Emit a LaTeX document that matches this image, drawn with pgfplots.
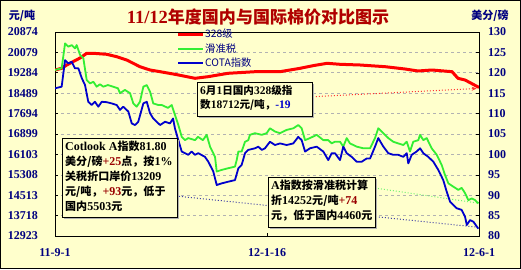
\documentclass[border=0pt]{standalone}
\usepackage{pgfplots}
\pgfplotsset{compat=1.18}
\usetikzlibrary{arrows.meta}
\usepackage{fontspec}
\setmainfont{Liberation Serif}
\newfontfamily\cjk{Noto Sans CJK SC}[Scale=0.92]
\definecolor{bgy}{HTML}{FFFFCC}
\definecolor{navyt}{HTML}{000080}
\definecolor{titler}{HTML}{B00000}
\definecolor{redl}{HTML}{FF0000}
\definecolor{greenl}{HTML}{33EE33}
\definecolor{bluel}{HTML}{0000CC}
\definecolor{dred}{HTML}{990000}
\newcommand{\zh}[1]{{\cjk #1}}
\begin{document}
\begin{tikzpicture}[x=1pt,y=1pt]
\fill[bgy] (0,0) rectangle (521,269);
\draw[black, line width=1pt] (0.5,0.5) rectangle (520.5,268.5);
\useasboundingbox (0,0) rectangle (521,269);
\begin{axis}[
  at={(55pt,33pt)}, anchor=south west, scale only axis, width=424pt, height=204pt,
  xmin=0, xmax=274, ymin=12923, ymax=20874,
  scaled y ticks=false, scaled x ticks=false,
  axis background/.style={fill=bgy},
  xtick={0,137,274}, xticklabels={11-9-1,12-1-16,12-6-1},
  ytick={12923,13718.1,14513.2,15308.3,16103.4,16898.5,17693.6,18488.7,19283.8,20078.9,20874},
  yticklabels={12923,13718,14513,15308,16103,16899,17694,18489,19284,20079,20874},
  ymajorgrids, major grid style={gray!60, dash pattern=on 3pt off 3pt, line width=0.6pt},
  tick align=inside, major tick length=3pt, ytick pos=left, xtick pos=bottom,
  tick style={black, line width=0.6pt},
  ticklabel style={font=\fontsize{12}{12}\selectfont\bfseries, text=navyt},
  yticklabel style={anchor=east, inner sep=0pt, xshift=-17pt},
  xticklabel style={anchor=north, inner sep=0pt, yshift=-12pt},
  axis line style={black, line width=0.8pt},
]
\addplot[redl, line width=3pt, line join=round] coordinates {
(0,19393)(4.3,19459)(7.6,19588)(11.6,19716)(16.2,19861)(20.5,20044)(24.6,20044)(33.4,20005)(39.9,19911)(46.3,19783)(54.9,19522)(61.4,19393)(67.9,19327)(77.5,19225)(90.5,19069)(98.9,19132)(111.8,19264)(129.3,19327)(145.4,19327)(158.4,19459)(166.7,19561)(175.8,19654)(184.2,19615)(197.1,19588)(213.3,19522)(226.2,19432)(234.6,19354)(243.6,19393)(256.6,19327)(260.4,19069)(265,19003)(274,18712)
};
\addplot[redl!80, dotted, line width=1pt, -{Stealth[length=5pt,width=4pt]}] coordinates {(166.7,18352) (272.5,18672)};
\end{axis}
\begin{axis}[
  at={(55pt,33pt)}, anchor=south west, scale only axis, width=424pt, height=204pt,
  xmin=0, xmax=274, ymin=80, ymax=130,
  axis x line=none, axis y line*=right,
  ytick={80,85,...,130},
  tick align=inside, major tick length=3pt,
  tick style={black, line width=0.6pt},
  /pgf/number format/assume math mode=true,
  ticklabel style={font=\fontsize{12}{12}\selectfont\bfseries, text=navyt},
  yticklabel style={anchor=west, inner sep=0pt, xshift=9pt},
  axis line style={black, line width=0.8pt},
]
\addplot[greenl!70, dotted, line width=1pt] coordinates {(206.8,91.76) (272.7,88.1)};
\addplot[bluel!50!gray, dotted, line width=1pt] coordinates {(78.2,89.8) (272,82.2)};
\addplot[greenl, line width=1.8pt, line join=round] coordinates {
(0,120.7)(4.3,121.1)(6.5,127.2)(8.6,126.4)(10.8,126.8)(12.9,126.0)(14.0,126.8)(16.2,124.4)(18.3,123.6)(20.5,118.2)(22.6,117.4)(24.8,117.8)(26.9,116.6)(29.1,117.2)(31.2,116.6)(34.2,117.0)(37.5,116.6)(40.7,116.2)(42.0,115.0)(45.2,115.8)(48.5,115.0)(50.6,112.5)(52.8,111.7)(54.9,112.9)(57.1,116.6)(59.3,117.0)(61.4,115.4)(63.5,112.5)(66.8,112.1)(69.0,112.1)(73.0,111.4)(75.4,112.1)(77.5,109.7)(79.7,107.2)(81.9,104.3)(84.0,103.5)(86.1,104.0)(90.5,103.5)(92.4,104.3)(95.6,103.5)(98.0,104.8)(100.2,101.9)(103.4,99.4)(104.5,95.8)(107.7,96.2)(111.8,96.6)(116.3,97.0)(117.4,98.6)(118.5,100.7)(120.6,100.7)(122.8,103.1)(124.9,103.5)(126.0,104.8)(129.2,105.2)(133.6,104.8)(136.8,105.2)(138.9,106.4)(142.2,105.6)(145.4,105.2)(149.7,106.0)(154.0,106.4)(157.2,107.2)(159.4,106.4)(161.6,103.5)(164.8,104.0)(169.1,104.8)(173.4,103.5)(176.6,103.5)(178.8,102.7)(180.9,103.1)(184.2,103.1)(186.3,101.9)(188.5,104.0)(190.6,102.7)(195.0,101.9)(199.2,101.5)(203.6,101.5)(206.8,104.0)(208.9,106.4)(212.2,105.2)(215.4,104.0)(218.6,103.1)(221.8,102.7)(225.1,102.3)(227.3,103.1)(229.4,100.7)(231.5,103.1)(234.8,103.5)(235.9,104.8)(238.0,103.5)(240.2,104.0)(243.4,101.5)(246.7,99.9)(249.9,97.4)(252.0,95.0)(254.2,92.9)(257.4,92.1)(260.6,91.3)(262.8,91.8)(265.0,90.5)(267.1,88.8)(269.3,89.2)(271.4,88.8)(273.6,88.0)
};
\addplot[bluel, line width=1.8pt, line join=round] coordinates {
(0,116.2)(4.3,116.6)(6.5,123.1)(8.6,122.3)(10.8,122.7)(12.9,121.1)(15.1,121.1)(17.3,118.7)(19.4,117.0)(21.5,112.9)(23.7,112.1)(25.8,112.9)(28.0,111.7)(30.2,112.9)(33.4,112.8)(36.6,112.5)(39.9,112.1)(42.0,110.9)(44.1,111.7)(47.4,110.5)(49.6,107.6)(51.7,107.2)(53.8,108.0)(57.1,112.5)(59.3,112.9)(61.4,110.1)(63.5,108.8)(65.7,108.0)(67.9,107.2)(71.1,108.0)(74.3,107.6)(76.3,108.8)(77.5,106.4)(79.7,103.5)(81.9,100.7)(84.0,100.3)(86.1,99.9)(88.3,100.7)(90.5,99.9)(92.6,100.3)(96.9,99.4)(99.1,98.2)(102.3,95.8)(104.5,92.5)(107.7,92.9)(111.8,93.3)(116.3,93.7)(118.5,96.6)(120.6,97.4)(122.8,100.3)(124.9,101.1)(129.2,101.5)(131.4,101.9)(133.6,101.1)(135.7,101.5)(138.9,103.1)(142.2,102.3)(145.4,102.7)(149.7,102.3)(154.0,102.7)(157.2,104.3)(159.4,103.5)(161.6,100.7)(164.8,101.5)(169.1,101.9)(173.4,100.7)(176.6,98.6)(178.8,100.3)(180.9,100.3)(184.2,98.6)(186.3,101.9)(188.5,100.3)(191.7,99.4)(195.0,98.2)(198.2,98.2)(201.4,99.0)(203.6,99.0)(206.8,101.9)(208.9,104.0)(212.2,101.9)(215.4,100.3)(218.6,99.9)(221.8,99.9)(225.1,99.4)(227.3,100.3)(228.3,97.8)(230.5,99.9)(233.7,100.7)(235.9,101.5)(238.0,100.3)(241.2,99.4)(244.5,98.2)(247.7,96.2)(250.9,93.7)(253.1,90.9)(255.3,88.4)(257.4,87.6)(259.6,86.8)(262.8,86.4)(265.0,84.7)(266.1,82.7)(268.2,83.9)(270.4,83.5)(272.6,82.3)(273.6,81.8)
};
\end{axis}
% title and unit labels
\node[text=titler, font=\fontsize{18.5}{18.5}\selectfont\bfseries] at (258,252) {11/12\zh{年度国内与国际棉价对比图示}};
\node[text=navyt, font=\fontsize{12}{12}\selectfont\bfseries] at (22,253) {\zh{元/吨}};
\node[text=navyt, font=\fontsize{12}{12}\selectfont\bfseries] at (490,253) {\zh{美分/磅}};
% legend
\draw[redl, line width=3pt] (178,235) -- (203,235);
\draw[greenl, line width=1.8pt] (178,220) -- (203,220);
\draw[bluel, line width=1.8pt] (178,206) -- (203,206);
\node[anchor=west, inner sep=0pt, text=navyt, font=\cjk\fontsize{11.2}{11.2}\selectfont] at (205,235) {328级};
\node[anchor=west, inner sep=0pt, text=navyt, font=\cjk\fontsize{11.2}{11.2}\selectfont] at (205,220) {滑准税};
\node[anchor=west, inner sep=0pt, text=navyt, font=\cjk\fontsize{11.2}{11.2}\selectfont] at (205,206) {COTA指数};
% box 1
\fill[gray!60] (199,151) rectangle (314,185);
\filldraw[fill=bgy, draw=black, line width=0.8pt] (197,153) rectangle (312,187);
\node[anchor=north west, align=left, inner sep=0pt, font=\fontsize{11.5}{14.5}\selectfont\bfseries] at (200,184)
 {6\zh{月}1\zh{日国内}328\zh{级指}\\\zh{数}18712\zh{元/吨，}\textcolor{bluel}{-19}};
% box 2
\fill[gray!60] (64,50) rectangle (179,129);
\filldraw[fill=bgy, draw=black, line width=0.8pt] (62,52) rectangle (177,131);
\node[anchor=north west, align=left, inner sep=0pt, font=\fontsize{12}{15}\selectfont\bfseries] at (65,128)
 {Cotlook A\zh{指数}81.80\\\zh{美分/磅}\textcolor{dred}{+25}\zh{点，按}1\%\\\zh{关税折口岸价}13209\\\zh{元/吨，}\textcolor{dred}{+93}\zh{元，低于}\\\zh{国内}5503\zh{元}};
% box 3
\fill[gray!60] (270,40) rectangle (377,90);
\filldraw[fill=bgy, draw=black, line width=0.8pt] (268,42) rectangle (375,92);
\node[anchor=north west, align=left, inner sep=0pt, font=\fontsize{12}{15}\selectfont\bfseries] at (271,89)
 {A\zh{指数按滑准税计算}\\\zh{折}14252\zh{元/吨}\textcolor{dred}{+74}\\\zh{元，低于国内}4460\zh{元}};
\end{tikzpicture}
\end{document}
